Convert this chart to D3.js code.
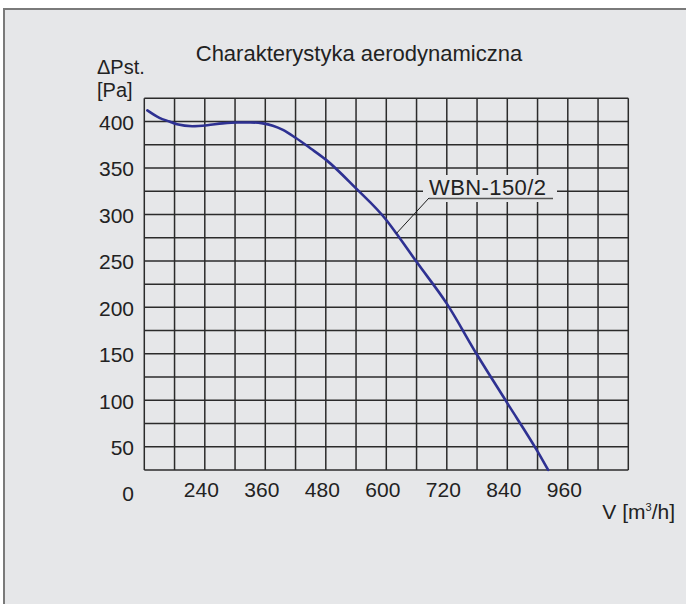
<!DOCTYPE html>
<html>
<head>
<meta charset="utf-8">
<script src="https://cdn.jsdelivr.net/npm/d3@7"></script>
<style>
  html, body { margin: 0; padding: 0; background: #ffffff; }
  svg { display: block; font-family: "Liberation Sans", Arial, sans-serif; }
</style>
</head>
<body>
<div id="chart"></div>
<script>
// ---- data ----
const flow = [126, 150, 170, 185, 215, 245, 275, 305, 330, 355, 375, 395, 420, 450, 480, 540, 600, 620, 660, 720, 780, 840, 900, 921];
const pressure = [412, 404, 400, 397, 395, 396, 398, 399, 399, 398, 395.5, 391, 382.5, 371, 359, 328, 294, 279.5, 249, 204, 149, 97, 45, 25];
const xTickValues = [240, 360, 480, 600, 720, 840, 960];
const yTickValues = [0, 50, 100, 150, 200, 250, 300, 350, 400];
const seriesName = "WBN-150/2";
const title = "Charakterystyka aerodynamiczna";
const labelAt = 620; // flow where the series label leader touches the curve

const W = 686, H = 604;
const svg = d3.select("#chart").append("svg").attr("width", W).attr("height", H);

// frame
svg.append("rect").attr("x", 0).attr("y", 0).attr("width", W).attr("height", H).attr("fill", "#ffffff");
svg.append("rect").attr("x", 4).attr("y", 9).attr("width", W + 20).attr("height", H + 20)
  .attr("fill", "#e6e7e9").attr("stroke", "#7a7a7a").attr("stroke-width", 2);

const x = d3.scaleLinear().domain([120, 1080]).range([144.3, 628.3]);
const y = d3.scaleLinear().domain([0, 425]).range([493.2, 98.3]);

const gridColor = "#2b2b2b";
const grid = svg.append("g");
grid.selectAll("line.v").data(d3.range(120, 1081, 60)).join("line")
  .attr("x1", d => x(d)).attr("x2", d => x(d))
  .attr("y1", y(425)).attr("y2", y(25))
  .attr("stroke", gridColor).attr("stroke-width", 1.5);
grid.selectAll("line.h").data(d3.range(25, 426, 25)).join("line")
  .attr("x1", x(120)).attr("x2", x(1080))
  .attr("y1", d => y(d)).attr("y2", d => y(d))
  .attr("stroke", gridColor).attr("stroke-width", 1.5);

// label background (interrupts grid)
const lx = 429, ly = 195;
svg.append("rect").attr("x", 423).attr("y", 175).attr("width", 134).attr("height", 27).attr("fill", "#e6e7e9");

// curve
const pts = flow.map((f, i) => [f, pressure[i]]);
const line = d3.line().x(d => x(d[0])).y(d => y(d[1])).curve(d3.curveMonotoneX);
svg.append("path").attr("d", line(pts)).attr("fill", "none")
  .attr("stroke", "#2e3192").attr("stroke-width", 2.6).attr("stroke-linecap", "round");

// series label
const i0 = flow.indexOf(labelAt);
svg.append("line").attr("x1", lx).attr("y1", 198).attr("x2", x(flow[i0])).attr("y2", y(pressure[i0]))
  .attr("stroke", "#1a1a1a").attr("stroke-width", 1);
svg.append("text").attr("x", lx).attr("y", ly).attr("font-size", 22).attr("fill", "#222")
  .attr("letter-spacing", 0.4).text(seriesName);
svg.append("line").attr("x1", lx).attr("x2", 553).attr("y1", 198.5).attr("y2", 198.5)
  .attr("stroke", "#555").attr("stroke-width", 1.5);

// axes (labels only)
const yAxis = d3.axisLeft(y).tickValues(yTickValues).tickSize(0).tickPadding(0).tickFormat(d3.format("d"));
const gy = svg.append("g").attr("transform", "translate(134,1)").call(yAxis);
gy.select(".domain").remove();
gy.selectAll("text").attr("font-size", 21).attr("fill", "#222").attr("font-family", "Liberation Sans, Arial, sans-serif");

const xAxis = d3.axisBottom(x).tickValues(xTickValues).tickSize(0).tickPadding(0).tickFormat(d3.format("d"));
const gx = svg.append("g").attr("transform", "translate(-4,482)").call(xAxis);
gx.select(".domain").remove();
gx.selectAll("text").attr("font-size", 21).attr("fill", "#222").attr("font-family", "Liberation Sans, Arial, sans-serif");

// titles
svg.append("text").attr("x", 359).attr("y", 61).attr("text-anchor", "middle").attr("font-size", 22)
  .attr("fill", "#222").text(title);
svg.append("text").attr("x", 97).attr("y", 74).attr("font-size", 20).attr("fill", "#222").text("ΔPst.");
svg.append("text").attr("x", 97).attr("y", 97).attr("font-size", 20).attr("fill", "#222").text("[Pa]");

const vt = svg.append("text").attr("x", 675).attr("y", 519).attr("text-anchor", "end").attr("font-size", 21).attr("fill", "#222");
vt.append("tspan").text("V [m");
vt.append("tspan").attr("font-size", 11).attr("dy", -8).text("3");
vt.append("tspan").attr("dy", 8).text("/h]");
</script>
</body>
</html>
